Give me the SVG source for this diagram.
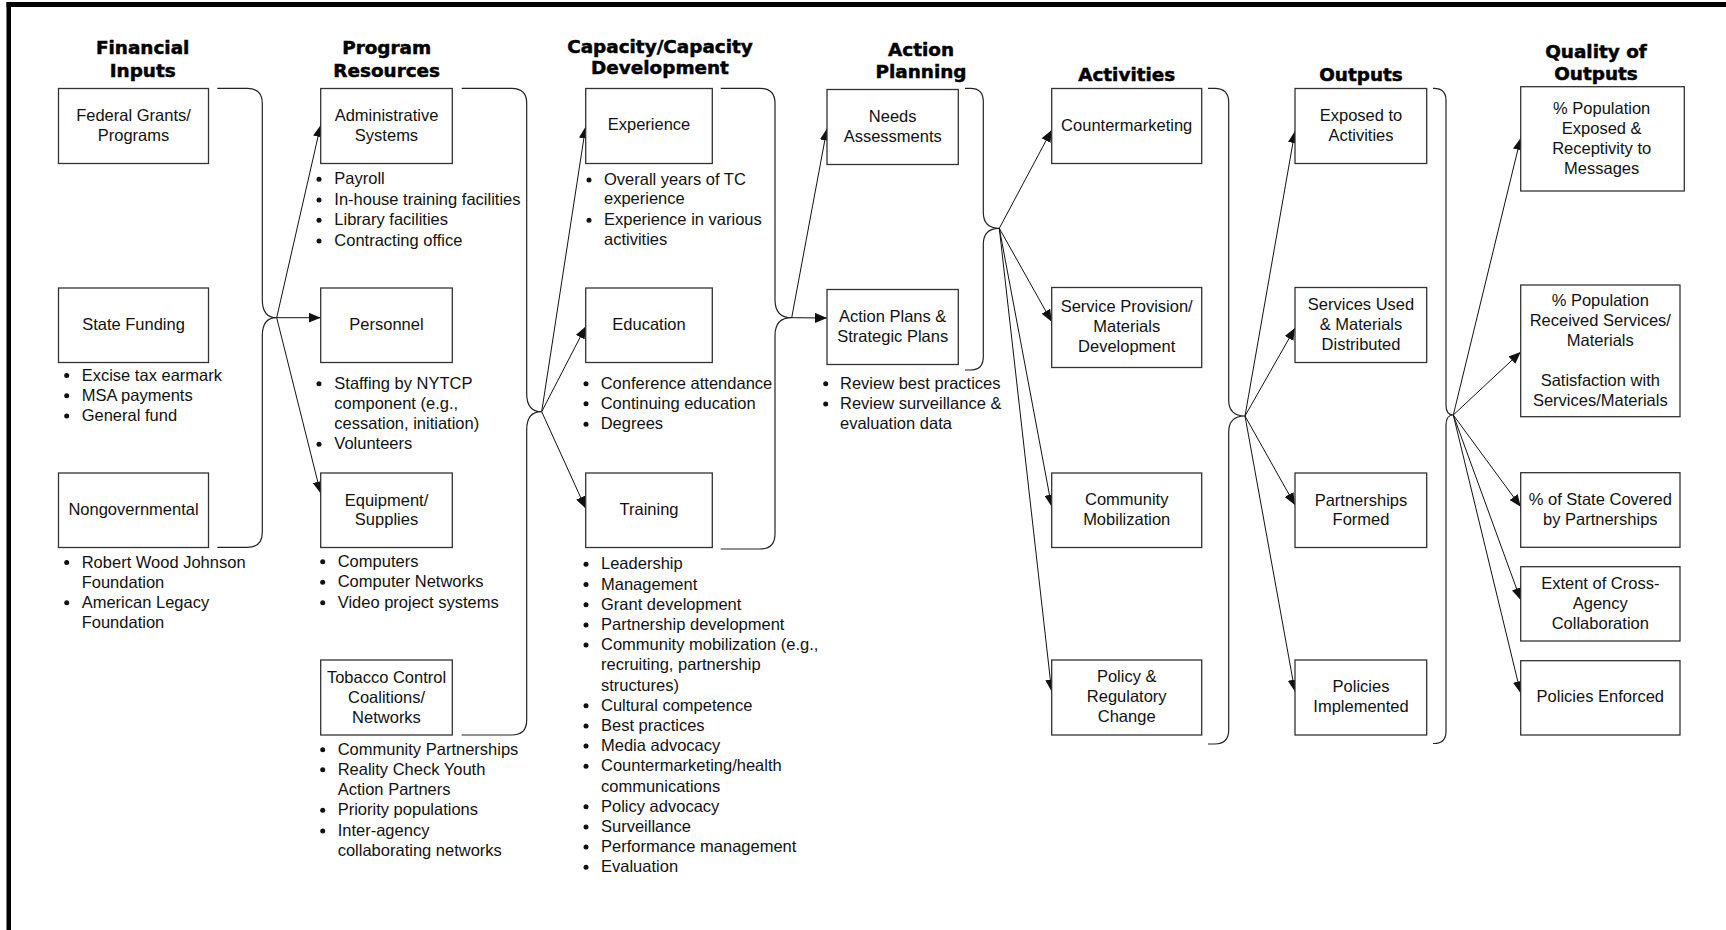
<svg xmlns="http://www.w3.org/2000/svg" width="1726" height="930" viewBox="0 0 1726 930">
<defs>
<marker id="ah" markerUnits="userSpaceOnUse" viewBox="0 0 12 10" refX="12" refY="5" markerWidth="12" markerHeight="10" orient="auto">
<path d="M0,0 L12,5 L0,10 z" fill="#111"/>
</marker>
<style>
.box{fill:#fff;stroke:#333;stroke-width:1.3}
.t{font-family:"Liberation Sans",Arial,sans-serif;font-size:16.5px;fill:#111}
.c{text-anchor:middle}
.h{font-family:"DejaVu Sans",Verdana,sans-serif;font-weight:bold;font-size:18.4px;text-anchor:middle;fill:#000;stroke:#000;stroke-width:0.5px}
.br{fill:none;stroke:#222;stroke-width:1.2}
.ar{fill:none;stroke:#111;stroke-width:1;marker-end:url(#ah)}
.bu{fill:#111}
</style>
</defs>
<rect x="0" y="0" width="1726" height="930" fill="#fff"/>
<g id="frame">
<rect x="6.5" y="2" width="1719.5" height="5" fill="#000"/>
<rect x="6.5" y="2" width="4.5" height="928" fill="#000"/>
</g>
<g id="headers">
<text class="h" x="142.7" y="54.3">Financial</text>
<text class="h" x="142.7" y="76.5">Inputs</text>
<text class="h" x="386.7" y="54.3">Program</text>
<text class="h" x="386.7" y="76.5">Resources</text>
<text class="h" x="660" y="52.5">Capacity/Capacity</text>
<text class="h" x="660" y="74">Development</text>
<text class="h" x="921" y="56">Action</text>
<text class="h" x="921" y="77.5">Planning</text>
<text class="h" x="1126.7" y="81">Activities</text>
<text class="h" x="1361" y="81">Outputs</text>
<text class="h" x="1596" y="58.3">Quality of</text>
<text class="h" x="1596" y="80">Outputs</text>
</g>
<g id="connectors">
<path class="br" d="M217.3,88.3 H247.3 Q262.3,88.3 262.3,103.3 V299.7 Q262.3,317.7 276.7,317.7 Q262.3,317.7 262.3,335.7 V532.3 Q262.3,547.3 247.3,547.3 H217.3"/>
<path class="br" d="M461.7,88.3 H511.7 Q526.7,88.3 526.7,103.3 V393.7 Q526.7,411.7 541.7,411.7 Q526.7,411.7 526.7,429.7 V720 Q526.7,735 511.7,735 H461.7"/>
<path class="br" d="M720.7,88.3 H760 Q775,88.3 775,103.3 V299.7 Q775,317.7 791.7,317.7 Q775,317.7 775,335.7 V534 Q775,549 760,549 H720.7"/>
<path class="br" d="M965,88.3 H970.3 Q983.3,88.3 983.3,101.3 V212.3 Q983.3,228.3 999.3,228.3 Q983.3,228.3 983.3,244.3 V357 Q983.3,370 970.3,370 H965"/>
<path class="br" d="M1208,88.3 H1214.7 Q1228.7,88.3 1228.7,102.3 V400 Q1228.7,416 1245,416 Q1228.7,416 1228.7,432 V730 Q1228.7,744 1214.7,744 H1208"/>
<path class="br" d="M1433,88.3 H1434 Q1446,88.3 1446,100.3 V405 Q1446,415 1453.3,415 Q1446,415 1446,425 V731.5 Q1446,743.5 1434,743.5 H1433"/>
<line class="ar" x1="276.7" y1="317.7" x2="320.7" y2="125"/>
<line class="ar" x1="276.7" y1="317.7" x2="320.7" y2="317.7"/>
<line class="ar" x1="276.7" y1="317.7" x2="320.7" y2="493.5"/>
<line class="ar" x1="541.7" y1="411.7" x2="585.7" y2="126.5"/>
<line class="ar" x1="541.7" y1="411.7" x2="585.7" y2="326.5"/>
<line class="ar" x1="541.7" y1="411.7" x2="585.7" y2="508.5"/>
<line class="ar" x1="791.7" y1="317.7" x2="827" y2="128.5"/>
<line class="ar" x1="791.7" y1="317.7" x2="827" y2="318"/>
<line class="ar" x1="999.3" y1="228.3" x2="1051.7" y2="130"/>
<line class="ar" x1="999.3" y1="228.3" x2="1051.7" y2="321.7"/>
<line class="ar" x1="999.3" y1="228.3" x2="1051.7" y2="506.7"/>
<line class="ar" x1="999.3" y1="228.3" x2="1051.7" y2="691.7"/>
<line class="ar" x1="1245" y1="416" x2="1295" y2="131"/>
<line class="ar" x1="1245" y1="416" x2="1295" y2="328"/>
<line class="ar" x1="1245" y1="416" x2="1295" y2="505"/>
<line class="ar" x1="1245" y1="416" x2="1295" y2="691.7"/>
<line class="ar" x1="1453.3" y1="415" x2="1520.7" y2="138"/>
<line class="ar" x1="1453.3" y1="415" x2="1520.7" y2="352"/>
<line class="ar" x1="1453.3" y1="415" x2="1520.7" y2="506.7"/>
<line class="ar" x1="1453.3" y1="415" x2="1520.7" y2="600"/>
<line class="ar" x1="1453.3" y1="415" x2="1520.7" y2="693.3"/>
</g>
<g id="federal-grants">
<rect class="box" x="58.5" y="88.5" width="150" height="75"/>
<text class="t c" x="133.5" y="120.5">Federal Grants/</text>
<text class="t c" x="133.5" y="140.5">Programs</text>
</g>
<g id="state-funding">
<rect class="box" x="58.5" y="288" width="150" height="74.5"/>
<text class="t c" x="133.5" y="329.5">State Funding</text>
<circle class="bu" cx="66.7" cy="375.5" r="2.5"/>
<circle class="bu" cx="66.7" cy="395.8" r="2.5"/>
<circle class="bu" cx="66.7" cy="416" r="2.5"/>
<text class="t" x="81.7" y="380.5">Excise tax earmark</text>
<text class="t" x="81.7" y="400.8">MSA payments</text>
<text class="t" x="81.7" y="421">General fund</text>
</g>
<g id="nongovernmental">
<rect class="box" x="58.5" y="473" width="150" height="74.5"/>
<text class="t c" x="133.5" y="515">Nongovernmental</text>
<circle class="bu" cx="66.7" cy="562.5" r="2.5"/>
<circle class="bu" cx="66.7" cy="602.7" r="2.5"/>
<text class="t" x="81.7" y="567.5">Robert Wood Johnson</text>
<text class="t" x="81.7" y="587.5">Foundation</text>
<text class="t" x="81.7" y="607.7">American Legacy</text>
<text class="t" x="81.7" y="627.7">Foundation</text>
</g>
<g id="administrative-systems">
<rect class="box" x="320.7" y="88.5" width="131.6" height="75"/>
<text class="t c" x="386.5" y="120.5">Administrative</text>
<text class="t c" x="386.5" y="140.5">Systems</text>
<circle class="bu" cx="319" cy="179.3" r="2.5"/>
<circle class="bu" cx="319" cy="200" r="2.5"/>
<circle class="bu" cx="319" cy="220.3" r="2.5"/>
<circle class="bu" cx="319" cy="241" r="2.5"/>
<text class="t" x="334.3" y="184.3">Payroll</text>
<text class="t" x="334.3" y="205">In-house training facilities</text>
<text class="t" x="334.3" y="225.3">Library facilities</text>
<text class="t" x="334.3" y="246">Contracting office</text>
</g>
<g id="personnel">
<rect class="box" x="320.7" y="288" width="131.6" height="74.5"/>
<text class="t c" x="386.5" y="329.5">Personnel</text>
<circle class="bu" cx="319" cy="383.7" r="2.5"/>
<circle class="bu" cx="319" cy="444.3" r="2.5"/>
<text class="t" x="334.3" y="388.7">Staffing by NYTCP</text>
<text class="t" x="334.3" y="409">component (e.g.,</text>
<text class="t" x="334.3" y="429">cessation, initiation)</text>
<text class="t" x="334.3" y="449.3">Volunteers</text>
</g>
<g id="equipment-supplies">
<rect class="box" x="320.7" y="473" width="131.6" height="74.5"/>
<text class="t c" x="386.5" y="505.5">Equipment/</text>
<text class="t c" x="386.5" y="525">Supplies</text>
<circle class="bu" cx="322.7" cy="561.7" r="2.5"/>
<circle class="bu" cx="322.7" cy="582.3" r="2.5"/>
<circle class="bu" cx="322.7" cy="602.7" r="2.5"/>
<text class="t" x="337.7" y="566.7">Computers</text>
<text class="t" x="337.7" y="587.3">Computer Networks</text>
<text class="t" x="337.7" y="607.7">Video project systems</text>
</g>
<g id="tobacco-control">
<rect class="box" x="320.7" y="660" width="131.6" height="75"/>
<text class="t c" x="386.5" y="682.5">Tobacco Control</text>
<text class="t c" x="386.5" y="702.5">Coalitions/</text>
<text class="t c" x="386.5" y="722.5">Networks</text>
<circle class="bu" cx="322.7" cy="749.7" r="2.5"/>
<circle class="bu" cx="322.7" cy="769.7" r="2.5"/>
<circle class="bu" cx="322.7" cy="810.3" r="2.5"/>
<circle class="bu" cx="322.7" cy="831" r="2.5"/>
<text class="t" x="337.7" y="754.7">Community Partnerships</text>
<text class="t" x="337.7" y="774.7">Reality Check Youth</text>
<text class="t" x="337.7" y="795.3">Action Partners</text>
<text class="t" x="337.7" y="815.3">Priority populations</text>
<text class="t" x="337.7" y="836">Inter-agency</text>
<text class="t" x="337.7" y="856">collaborating networks</text>
</g>
<g id="experience">
<rect class="box" x="585.7" y="88.5" width="126.6" height="75"/>
<text class="t c" x="649" y="130.3">Experience</text>
<circle class="bu" cx="589" cy="180" r="2.5"/>
<circle class="bu" cx="589" cy="220.3" r="2.5"/>
<text class="t" x="604" y="185">Overall years of TC</text>
<text class="t" x="604" y="204.3">experience</text>
<text class="t" x="604" y="225.3">Experience in various</text>
<text class="t" x="604" y="245.3">activities</text>
</g>
<g id="education">
<rect class="box" x="585.7" y="288" width="126.6" height="74.5"/>
<text class="t c" x="649" y="329.5">Education</text>
<circle class="bu" cx="586" cy="383.7" r="2.5"/>
<circle class="bu" cx="586" cy="403.7" r="2.5"/>
<circle class="bu" cx="586" cy="424.3" r="2.5"/>
<text class="t" x="600.7" y="388.7">Conference attendance</text>
<text class="t" x="600.7" y="408.7">Continuing education</text>
<text class="t" x="600.7" y="429.3">Degrees</text>
</g>
<g id="training">
<rect class="box" x="585.7" y="473" width="126.6" height="74.5"/>
<text class="t c" x="649" y="515">Training</text>
<circle class="bu" cx="586" cy="564.3" r="2.5"/>
<circle class="bu" cx="586" cy="584.5" r="2.5"/>
<circle class="bu" cx="586" cy="604.7" r="2.5"/>
<circle class="bu" cx="586" cy="624.9" r="2.5"/>
<circle class="bu" cx="586" cy="645.1" r="2.5"/>
<circle class="bu" cx="586" cy="705.7" r="2.5"/>
<circle class="bu" cx="586" cy="725.9" r="2.5"/>
<circle class="bu" cx="586" cy="746.1" r="2.5"/>
<circle class="bu" cx="586" cy="766.3" r="2.5"/>
<circle class="bu" cx="586" cy="806.7" r="2.5"/>
<circle class="bu" cx="586" cy="826.9" r="2.5"/>
<circle class="bu" cx="586" cy="847.1" r="2.5"/>
<circle class="bu" cx="586" cy="867.3" r="2.5"/>
<text class="t" x="601" y="569.3">Leadership</text>
<text class="t" x="601" y="589.5">Management</text>
<text class="t" x="601" y="609.7">Grant development</text>
<text class="t" x="601" y="629.9">Partnership development</text>
<text class="t" x="601" y="650.1">Community mobilization (e.g.,</text>
<text class="t" x="601" y="670.3">recruiting, partnership</text>
<text class="t" x="601" y="690.5">structures)</text>
<text class="t" x="601" y="710.7">Cultural competence</text>
<text class="t" x="601" y="730.9">Best practices</text>
<text class="t" x="601" y="751.1">Media advocacy</text>
<text class="t" x="601" y="771.3">Countermarketing/health</text>
<text class="t" x="601" y="791.5">communications</text>
<text class="t" x="601" y="811.7">Policy advocacy</text>
<text class="t" x="601" y="831.9">Surveillance</text>
<text class="t" x="601" y="852.1">Performance management</text>
<text class="t" x="601" y="872.3">Evaluation</text>
</g>
<g id="needs-assessments">
<rect class="box" x="827" y="89.5" width="131.3" height="75"/>
<text class="t c" x="892.7" y="122">Needs</text>
<text class="t c" x="892.7" y="142">Assessments</text>
</g>
<g id="action-plans">
<rect class="box" x="827" y="289.5" width="131.3" height="75"/>
<text class="t c" x="892.7" y="322">Action Plans &amp;</text>
<text class="t c" x="892.7" y="342">Strategic Plans</text>
<circle class="bu" cx="825.7" cy="383.7" r="2.5"/>
<circle class="bu" cx="825.7" cy="404" r="2.5"/>
<text class="t" x="840" y="388.7">Review best practices</text>
<text class="t" x="840" y="409">Review surveillance &amp;</text>
<text class="t" x="840" y="429.3">evaluation data</text>
</g>
<g id="countermarketing">
<rect class="box" x="1051.7" y="88.5" width="150" height="75"/>
<text class="t c" x="1126.7" y="131">Countermarketing</text>
</g>
<g id="service-provision">
<rect class="box" x="1051.7" y="287.5" width="150" height="80"/>
<text class="t c" x="1126.7" y="312">Service Provision/</text>
<text class="t c" x="1126.7" y="332">Materials</text>
<text class="t c" x="1126.7" y="352">Development</text>
</g>
<g id="community-mobilization">
<rect class="box" x="1051.7" y="473" width="150" height="74.5"/>
<text class="t c" x="1126.7" y="505">Community</text>
<text class="t c" x="1126.7" y="525">Mobilization</text>
</g>
<g id="policy-regulatory-change">
<rect class="box" x="1051.7" y="660" width="150" height="75"/>
<text class="t c" x="1126.7" y="682">Policy &amp;</text>
<text class="t c" x="1126.7" y="702">Regulatory</text>
<text class="t c" x="1126.7" y="722">Change</text>
</g>
<g id="exposed-to-activities">
<rect class="box" x="1295" y="88.5" width="131.7" height="75"/>
<text class="t c" x="1361" y="121">Exposed to</text>
<text class="t c" x="1361" y="140.5">Activities</text>
</g>
<g id="services-used">
<rect class="box" x="1295" y="287.5" width="131.7" height="75"/>
<text class="t c" x="1361" y="310">Services Used</text>
<text class="t c" x="1361" y="329.5">&amp; Materials</text>
<text class="t c" x="1361" y="349.5">Distributed</text>
</g>
<g id="partnerships-formed">
<rect class="box" x="1295" y="473" width="131.7" height="74.5"/>
<text class="t c" x="1361" y="505.5">Partnerships</text>
<text class="t c" x="1361" y="525">Formed</text>
</g>
<g id="policies-implemented">
<rect class="box" x="1295" y="660" width="131.7" height="75"/>
<text class="t c" x="1361" y="692">Policies</text>
<text class="t c" x="1361" y="712">Implemented</text>
</g>
<g id="population-exposed">
<rect class="box" x="1520.7" y="86.7" width="163.6" height="104.3"/>
<text class="t c" x="1601.7" y="114.3">% Population</text>
<text class="t c" x="1601.7" y="134.3">Exposed &amp;</text>
<text class="t c" x="1601.7" y="153.7">Receptivity to</text>
<text class="t c" x="1601.7" y="173.7">Messages</text>
</g>
<g id="population-received">
<rect class="box" x="1520.7" y="285" width="159.3" height="131.7"/>
<text class="t c" x="1600.3" y="306">% Population</text>
<text class="t c" x="1600.3" y="326">Received Services/</text>
<text class="t c" x="1600.3" y="346">Materials</text>
<text class="t c" x="1600.3" y="386">Satisfaction with</text>
<text class="t c" x="1600.3" y="405.5">Services/Materials</text>
</g>
<g id="state-covered">
<rect class="box" x="1520.7" y="472.7" width="159.3" height="74.6"/>
<text class="t c" x="1600.3" y="505.3">% of State Covered</text>
<text class="t c" x="1600.3" y="525.3">by Partnerships</text>
</g>
<g id="cross-agency">
<rect class="box" x="1520.7" y="566.7" width="159.3" height="74.3"/>
<text class="t c" x="1600.3" y="589.3">Extent of Cross-</text>
<text class="t c" x="1600.3" y="609.3">Agency</text>
<text class="t c" x="1600.3" y="628.7">Collaboration</text>
</g>
<g id="policies-enforced">
<rect class="box" x="1520.7" y="660.7" width="159.3" height="74.3"/>
<text class="t c" x="1600.3" y="702">Policies Enforced</text>
</g>
</svg>
